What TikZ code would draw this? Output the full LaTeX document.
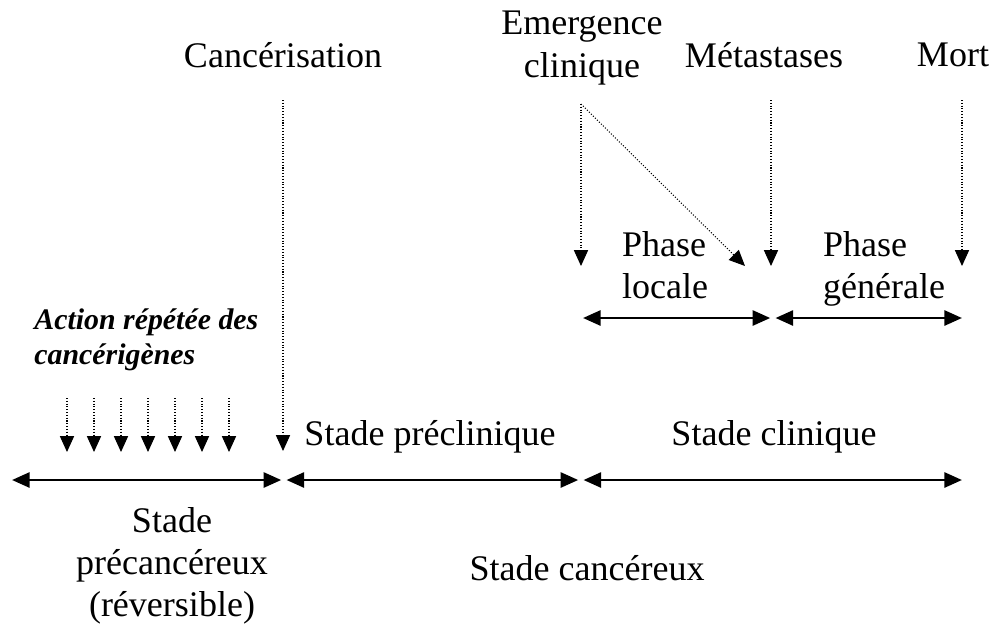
\documentclass[tikz,border=0pt]{standalone}
\usepackage{fontspec}
\setmainfont{Liberation Serif}
\usetikzlibrary{arrows.meta}
\tikzset{
  lbl/.style={font=\fontsize{20.5}{24}\selectfont, align=center, inner sep=1pt},
  act/.style={font=\fontsize{17}{20}\selectfont\bfseries\itshape, align=left, inner sep=0pt},
  drop/.style={densely dotted, line width=0.6pt, -{Triangle[width=8pt,length=9pt]}},
  span/.style={line width=1.6pt, {Triangle[width=8.5pt,length=10pt]}-{Triangle[width=8.5pt,length=10pt]}},
}

\begin{document}
\begin{tikzpicture}[x=0.02cm,y=-0.02cm]
    \useasboundingbox (0,0) rectangle (1008,623);

    % Events
    \node[lbl] (canc) at (283,55) {Cancérisation};
    \node[lbl] (emer) at (582,48) {Emergence\\clinique};
    \node[lbl] (meta) at (764,55) {Métastases};
    \node[lbl] (mort) at (953,55) {Mort};

    \coordinate (cTop) at (283,100);
    \coordinate (cEnd) at (283,451);
    \coordinate (eTop) at (581,104);
    \coordinate (eEnd) at (581,266);
    \coordinate (eDiag) at (745,266);
    \coordinate (mTop) at (771,100);
    \coordinate (mEnd) at (771,266);
    \coordinate (dTop) at (962,100);
    \coordinate (dEnd) at (962,266);

    \draw[drop] (cTop) -- (cEnd);
    \draw[drop] (eTop) -- (eEnd);
    \draw[drop] (eTop) -- (eDiag);
    \draw[drop] (mTop) -- (mEnd);
    \draw[drop] (dTop) -- (dEnd);

    % Phases
    \node[lbl, align=left, anchor=west] (ploc) at (620,265) {Phase\\locale};
    \node[lbl, align=left, anchor=west] (pgen) at (821,269) {Phase\\générale};
    \coordinate (p0) at (583,318);
    \coordinate (p1) at (772,318);
    \coordinate (p2) at (962,318);
    \draw[span, shorten >=1pt] (p0) -- (p1);
    \draw[span, shorten <=2pt] (p1) -- (p2);

    % Carcinogens
    \node[act, anchor=north west] (action) at (34,308) {Action répétée des\\cancérigènes};
    \foreach \x in {67,94,...,229}
        \draw[drop] (\x,398) -- (\x,452);

    % Main axis
    \coordinate (a0) at (12,480);
    \coordinate (a1) at (283,480);
    \coordinate (a2) at (580,480);
    \coordinate (a3) at (962,480);
    \draw[span, shorten >=1pt] (a0) -- (a1);
    \draw[span, shorten <=2pt, shorten >=1pt] (a1) -- (a2);
    \draw[span, shorten <=2pt] (a2) -- (a3);

    % Labels
    \node[lbl] (precl) at (430,437) {Stade préclinique};
    \node[lbl] (clin) at (774,437) {Stade clinique};
    \node[lbl] (precan) at (172,566) {Stade\\précancéreux\\(réversible)};
    \node[lbl] (cancer) at (587,568) {Stade cancéreux};
\end{tikzpicture}
\end{document}
